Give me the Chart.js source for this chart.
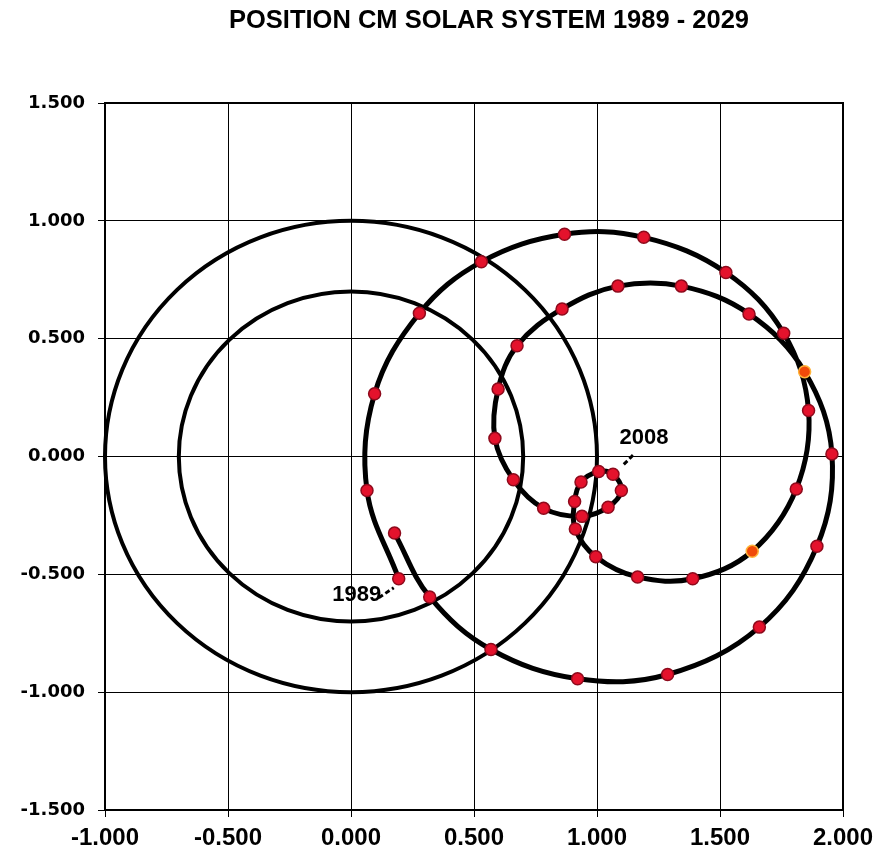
<!DOCTYPE html>
<html>
<head>
<meta charset="utf-8">
<title>Position CM Solar System</title>
<script src="https://cdn.jsdelivr.net/npm/chart.js@4.4.1/dist/chart.umd.min.js"></script>
<style>
  html, body { margin: 0; padding: 0; background: #ffffff; }
  #cm_chart { display: block; }
</style>
</head>
<body>
<canvas id="cm_chart" width="877" height="857"></canvas>
<script>
// one point per year, position of the centre of mass (solar radii)
var years = [1989, 1990, 1991, 1992, 1993, 1994, 1995, 1996, 1997, 1998,
             1999, 2000, 2001, 2002, 2003, 2004, 2005, 2006, 2007, 2008,
             2009, 2010, 2011, 2012, 2013, 2014, 2015, 2016, 2017, 2018,
             2019, 2020, 2021, 2022, 2023, 2024, 2025, 2026, 2027, 2028, 2029];

var cmX = [0.194, 0.065, 0.096, 0.278, 0.530, 0.868, 1.190, 1.524, 1.759, 1.860,
           1.810, 1.631, 1.389, 1.165, 0.995, 0.912, 0.909, 0.935, 1.007, 1.065,
           1.099, 1.045, 0.939, 0.783, 0.660, 0.585, 0.598, 0.675, 0.858, 1.085,
           1.343, 1.618, 1.844, 1.955, 1.894, 1.660, 1.287, 0.921, 0.569, 0.320, 0.177];

var cmY = [-0.519, -0.144, 0.266, 0.608, 0.826, 0.943, 0.930, 0.781, 0.523, 0.195,
           -0.138, -0.402, -0.519, -0.511, -0.425, -0.308, -0.191, -0.108, -0.064, -0.075,
           -0.144, -0.215, -0.254, -0.220, -0.099, 0.077, 0.286, 0.470, 0.626, 0.723,
           0.723, 0.605, 0.360, 0.011, -0.381, -0.724, -0.925, -0.943, -0.819, -0.596, -0.325];

var highlightYears = [2000, 2021];
var labelYears = [1989, 2008];

// reference rings round the origin
var ringRadii = [1.0, 0.7];

var xTicks = [-1.0, -0.5, 0.0, 0.5, 1.0, 1.5, 2.0];
var yTicks = [-1.5, -1.0, -0.5, 0.0, 0.5, 1.0, 1.5];

var chartTitle = 'POSITION CM SOLAR SYSTEM 1989 - 2029';

var points = [];
for (var i = 0; i < years.length; i++)
{
  points.push({ x: cmX[i], y: cmY[i], year: years[i] });
}

// label offsets from the marker, pixels: text centre, leader start, leader end
var labelOffsets =
{
  1989: { tx: -42, ty: 16, x1: -20, y1: 19, x2: -5, y2: 9 },
  2008: { tx: 31, ty: -36, x1: 20, y1: -19, x2: 9, y2: -8 }
};

var ringsAndLabels =
{
  id: 'ringsAndLabels',
  beforeDatasetsDraw: function(chart)
  {
    var ctx = chart.ctx;
    var xs = chart.scales.x;
    var ys = chart.scales.y;
    var cx = xs.getPixelForValue(0);
    var cy = ys.getPixelForValue(0);

    ctx.save();
    ctx.strokeStyle = '#000000';
    ctx.lineWidth = 4;
    ringRadii.forEach(function(r)
    {
      var rx = xs.getPixelForValue(r) - cx;
      var ry = cy - ys.getPixelForValue(r);
      ctx.beginPath();
      ctx.ellipse(cx, cy, rx, ry, 0, 0, Math.PI * 2);
      ctx.stroke();
    });
    ctx.restore();
  },
  afterDraw: function(chart)
  {
    var ctx = chart.ctx;
    var area = chart.chartArea;
    var xs = chart.scales.x;
    var ys = chart.scales.y;

    ctx.save();
    ctx.strokeStyle = '#000000';
    ctx.lineWidth = 2;
    ctx.strokeRect(area.left, area.top, area.right - area.left, area.bottom - area.top);

    // title sits a little right of the plot centre, as in the original
    ctx.fillStyle = '#000000';
    ctx.font = 'bold 25.5px "Liberation Sans", Arial, sans-serif';
    ctx.textAlign = 'center';
    ctx.textBaseline = 'middle';
    ctx.fillText(chartTitle, 489, 21);

    labelYears.forEach(function(yr)
    {
      var k = years.indexOf(yr);
      var px = xs.getPixelForValue(cmX[k]);
      var py = ys.getPixelForValue(cmY[k]);
      var o = labelOffsets[yr];

      ctx.fillStyle = '#000000';
      ctx.font = 'bold 22px "Liberation Sans", Arial, sans-serif';
      ctx.textAlign = 'center';
      ctx.textBaseline = 'middle';
      ctx.fillText(String(yr), px + o.tx, py + o.ty);

      ctx.lineWidth = 3;
      ctx.setLineDash([5, 3]);
      ctx.beginPath();
      ctx.moveTo(px + o.x1, py + o.y1);
      ctx.lineTo(px + o.x2, py + o.y2);
      ctx.stroke();
      ctx.setLineDash([]);
    });
    ctx.restore();
  }
};

var cmData =
{
  datasets:
  [{
    label: 'CM',
    data: points,
    showLine: true,
    borderColor: '#000000',
    borderWidth: 5,
    tension: 0.37,
    pointRadius: 6,
    pointHoverRadius: 6,
    pointBorderWidth: 1.5,
    pointBackgroundColor: function(c)
    {
      var p = c.raw;
      return (p && highlightYears.indexOf(p.year) >= 0) ? '#f04a0a' : '#e4122c';
    },
    pointBorderColor: function(c)
    {
      var p = c.raw;
      return (p && highlightYears.indexOf(p.year) >= 0) ? '#ffb43a' : '#8e0a1c';
    }
  }]
};

var cmOptions =
{
  responsive: false,
  animation: false,
  layout: { padding: { left: 0, right: 34, top: 103, bottom: 0 } },
  plugins:
  {
    legend: { display: false },
    tooltip: { enabled: false },
    title: { display: false }
  },
  scales:
  {
    x:
    {
      type: 'linear',
      min: -1,
      max: 2,
      afterBuildTicks: function(scale) { scale.ticks = xTicks.map(function(v) { return { value: v }; }); },
      afterFit: function(scale)
      {
        scale.height = 47;
        scale.paddingLeft = 0;
        scale.paddingRight = 0;
      },
      grid: { color: '#000000', lineWidth: 1, tickLength: 7, tickColor: '#000000' },
      border: { display: true, color: '#000000', width: 2 },
      ticks:
      {
        color: '#000000',
        padding: 7,
        maxRotation: 0,
        font: { family: '"Liberation Sans", Arial, sans-serif', size: 24, weight: 'bold' },
        callback: function(v) { return Number(v).toFixed(3); }
      }
    },
    y:
    {
      type: 'linear',
      min: -1.5,
      max: 1.5,
      afterBuildTicks: function(scale) { scale.ticks = yTicks.map(function(v) { return { value: v }; }); },
      afterFit: function(scale) { scale.width = 105; },
      grid: { color: '#000000', lineWidth: 1, tickLength: 7, tickColor: '#000000' },
      border: { display: true, color: '#000000', width: 2 },
      ticks:
      {
        color: '#000000',
        padding: 13,
        font: { family: '"DejaVu Sans", sans-serif', size: 18, weight: 'bold' },
        callback: function(v) { return Number(v).toFixed(3); }
      }
    }
  }
};

var cmCanvas = document.getElementById('cm_chart').getContext('2d');
var cmChart = new Chart(cmCanvas,
{
  type: 'scatter',
  data: cmData,
  options: cmOptions,
  plugins: [ringsAndLabels]
});
</script>
</body>
</html>
